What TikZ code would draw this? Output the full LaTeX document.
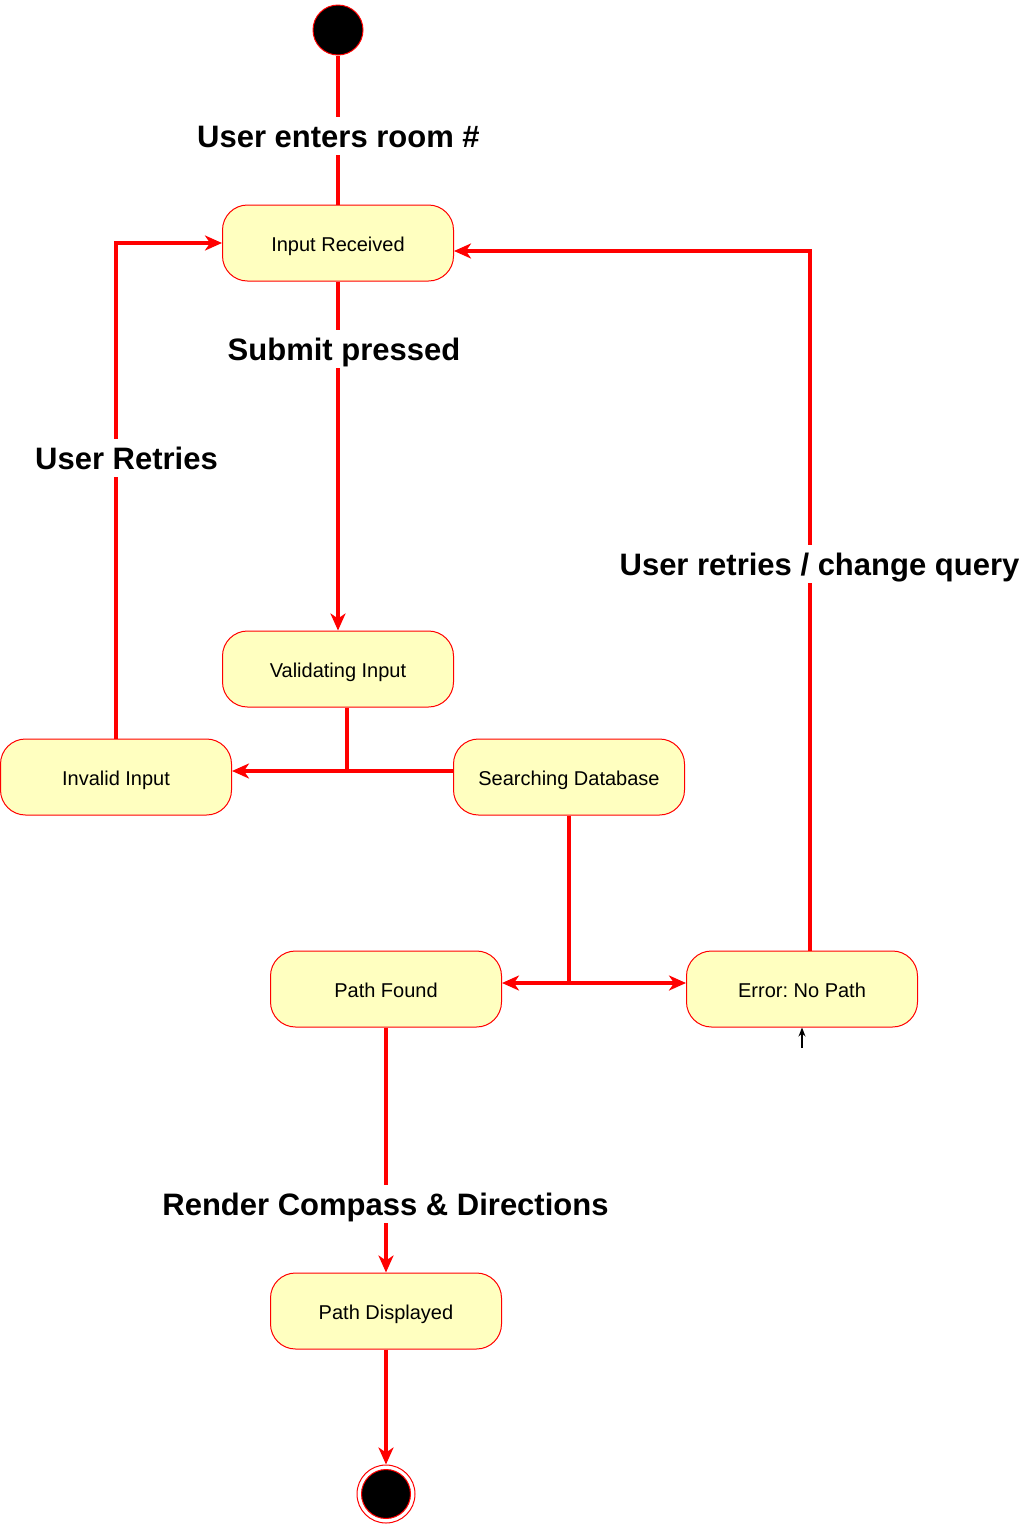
\documentclass[tikz,border=0pt]{standalone}
\usepackage{fontspec}
\setmainfont{Liberation Sans}
\usetikzlibrary{arrows.meta}
\definecolor{stfill}{RGB}{255,255,192}
\frenchspacing
\tikzset{
  state/.style={rectangle, rounded corners=25pt, draw=red, line width=1pt, fill=stfill,
    minimum width=231pt, minimum height=76pt, inner sep=0pt,
    text height=16.5pt, text depth=0pt,
    font=\fontsize{20pt}{24pt}\selectfont},
  conn/.style={draw=red, line width=4pt},
  arr/.style={conn, -{Stealth[length=17pt,width=15pt,inset=5pt]}},
  lbl/.style={fill=white, inner xsep=2pt, inner ysep=8pt, text height=22pt, text depth=0pt,
    font=\fontsize{31pt}{36pt}\selectfont\bfseries},
}
\begin{document}
\begin{tikzpicture}[x=1pt,y=-1pt]
\useasboundingbox (0,0) rectangle (1022,1524);
% start
\node[circle, fill=black, draw=red, line width=1pt, minimum size=50pt, inner sep=0pt] (start) at (338,30) {};
% states
\node[state] (ir) at (338,243) {Input Received};
\node[state] (vi) at (338,669) {Validating Input};
\node[state] (ii) at (116,777) {Invalid Input};
\node[state] (sd) at (569,777) {Searching Database};
\node[state] (pf) at (386,989) {Path Found};
\node[state] (en) at (802,989) {Error:\ No Path};
\node[state] (pd) at (386,1311) {Path Displayed};
% end
\node[circle, fill=white, draw=red, line width=1pt, minimum size=58pt, inner sep=0pt] (end) at (386,1494) {};
\node[circle, fill=black, draw=red, line width=1pt, minimum size=49pt, inner sep=0pt] (endin) at (386,1494) {};
% junctions
\coordinate (j1) at (347,771);
\coordinate (j2) at (569,983);
\coordinate (j3) at (810,251);
\coordinate (sa) at (802,1048);
% connectors
\draw[conn] (start.south) -- (ir.north);
\draw[arr] (ir.south) -- (vi.north);
\draw[arr] (vi.south -| j1) -- (j1) -- (j1 -| ii.east);
\draw[conn] (sd.west |- j1) -- (j1);
\draw[arr] (ii.north) |- (ir.west);
\draw[conn] (sd.south) -- (j2);
\draw[arr] (j2) -- (j2 -| pf.east);
\draw[arr] (j2) -- (j2 -| en.west);
\draw[arr] (j3 |- en.north) -- (j3) -- (j3 -| ir.east);
\draw[arr] (pf.south) -- (pd.north);
\draw[arr] (pd.south) -- (end.north);
\draw[line width=1.2pt, -{Stealth[length=9pt,width=7pt]}] (sa) -- (en.south);
% labels
\node[lbl] (l1) at (338.5,136) {User enters room \#};
\node[lbl] (l2) at (344,349) {Submit pressed};
\node[lbl] (l3) at (126.5,458) {User Retries};
\node[lbl] (l4) at (819.5,564) {User retries / change query};
\node[lbl] (l5) at (385.5,1204) {Render Compass \& Directions};
\end{tikzpicture}
\end{document}
